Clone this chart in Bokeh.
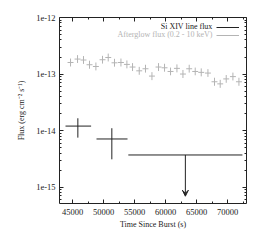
from bokeh.plotting import figure
from bokeh.models import (Range1d, FixedTicker, CustomJSTickFormatter, LogAxis, LinearAxis,
                          Label, Legend, LegendItem, Arrow, VeeHead)
from bokeh.embed import file_html
from bokeh.resources import INLINE

# ---- data ----
# Afterglow flux (0.2 - 10 keV)
ag_t = [44680, 45810, 46770, 47740, 48770, 49840, 50760, 51770, 52810, 53770,
        54680, 55760, 56770, 57810, 58870, 59840, 60810, 61840, 62810, 63820,
        64790, 65760, 66840, 67900, 68820, 69790, 70870, 71840]
ag_flux = [1.60e-13, 1.84e-13, 1.77e-13, 1.46e-13, 1.36e-13, 1.79e-13, 1.96e-13, 1.58e-13,
           1.60e-13, 1.48e-13, 1.33e-13, 1.14e-13, 1.24e-13, 0.92e-13, 1.33e-13, 1.29e-13,
           1.11e-13, 1.26e-13, 1.00e-13, 1.24e-13, 1.11e-13, 1.07e-13, 1.04e-13, 0.73e-13,
           0.67e-13, 0.82e-13, 0.90e-13, 0.73e-13]
ag_terr = [480] * len(ag_t)
ag_ferr_lo = [0.24e-13, 0.27e-13, 0.26e-13, 0.22e-13, 0.20e-13, 0.26e-13, 0.29e-13, 0.23e-13,
              0.24e-13, 0.22e-13, 0.20e-13, 0.17e-13, 0.18e-13, 0.14e-13, 0.20e-13, 0.19e-13,
              0.16e-13, 0.19e-13, 0.15e-13, 0.18e-13, 0.16e-13, 0.16e-13, 0.15e-13, 0.11e-13,
              0.10e-13, 0.12e-13, 0.13e-13, 0.11e-13]
ag_ferr_hi = [0.28e-13, 0.32e-13, 0.31e-13, 0.26e-13, 0.24e-13, 0.31e-13, 0.34e-13, 0.28e-13,
              0.28e-13, 0.26e-13, 0.23e-13, 0.20e-13, 0.22e-13, 0.16e-13, 0.23e-13, 0.23e-13,
              0.19e-13, 0.22e-13, 0.18e-13, 0.22e-13, 0.19e-13, 0.19e-13, 0.18e-13, 0.13e-13,
              0.12e-13, 0.14e-13, 0.16e-13, 0.13e-13]

# Si XIV line flux (detections)
si_t = [45860, 51340]
si_t_lo = [43870, 48870]
si_t_hi = [48000, 53870]
si_flux = [1.2e-14, 7.1e-15]
si_flux_lo = [7.5e-15, 3.1e-15]
si_flux_hi = [1.65e-14, 1.1e-14]

# Si XIV upper limit
ul_t_lo = 54000
ul_t_hi = 72400
ul_flux = 3.7e-15
ul_arrow_end = 6.9e-16

x_major = [45000, 50000, 55000, 60000, 65000, 70000]
x_minor = [42500, 47500, 52500, 57500, 62500, 67500, 72500]
y_major = [1e-15, 1e-14, 1e-13, 1e-12]
y_minor = [m * d for d in [1e-16, 1e-15, 1e-14, 1e-13] for m in range(2, 10)]

FONT = "Liberation Serif"
GRAY = "#b4b4b4"
INK = "#222222"

p = figure(width=255, height=240, output_backend="svg", toolbar_location=None,
           y_axis_type="log",
           x_range=Range1d(42900, 73060), y_range=Range1d(10 ** -15.29, 1e-12),
           min_border_left=59, min_border_right=9, min_border_top=17, min_border_bottom=37)
p.background_fill_color = "white"
p.border_fill_color = "white"
p.outline_line_color = INK
p.outline_line_width = 1
p.xgrid.visible = False
p.ygrid.visible = False

# afterglow crosses
ag_x0 = [t - e for t, e in zip(ag_t, ag_terr)]
ag_x1 = [t + e for t, e in zip(ag_t, ag_terr)]
ag_y0 = [f - e for f, e in zip(ag_flux, ag_ferr_lo)]
ag_y1 = [f + e for f, e in zip(ag_flux, ag_ferr_hi)]
r_ag = p.segment(x0=ag_x0, x1=ag_x1, y0=ag_flux, y1=ag_flux, line_color=GRAY, line_width=1)
p.segment(x0=ag_t, x1=ag_t, y0=ag_y0, y1=ag_y1, line_color=GRAY, line_width=1)

# Si XIV crosses
r_si = p.segment(x0=si_t_lo, x1=si_t_hi, y0=si_flux, y1=si_flux, line_color=INK, line_width=1)
p.segment(x0=si_t, x1=si_t, y0=si_flux_lo, y1=si_flux_hi, line_color=INK, line_width=1)

# upper limit
p.segment(x0=[ul_t_lo], x1=[ul_t_hi], y0=[ul_flux], y1=[ul_flux], line_color=INK, line_width=1)
ul_mid = (ul_t_lo + ul_t_hi) / 2
p.add_layout(Arrow(x_start=ul_mid, y_start=ul_flux, x_end=ul_mid, y_end=ul_arrow_end,
                   line_color=INK, line_width=1,
                   end=VeeHead(size=6, line_color=INK, line_width=1, fill_color=INK)))

# axes
p.xaxis.ticker = FixedTicker(ticks=x_major, minor_ticks=x_minor)
p.yaxis.ticker = FixedTicker(ticks=y_major, minor_ticks=y_minor)
p.yaxis.formatter = CustomJSTickFormatter(code="return '1e' + Math.round(Math.log10(tick));")
for ax in (p.xaxis[0], p.yaxis[0]):
    ax.major_tick_in = 4
    ax.major_tick_out = 0
    ax.minor_tick_in = 2
    ax.minor_tick_out = 0
    ax.axis_line_color = None
    ax.major_tick_line_color = INK
    ax.minor_tick_line_color = INK
    ax.major_label_text_font = FONT
    ax.major_label_text_font_size = "8.5px"
    ax.major_label_text_color = INK
    ax.axis_label_text_font = FONT
    ax.axis_label_text_font_size = "8px"
    ax.axis_label_text_font_style = "normal"
    ax.axis_label_text_color = INK
p.xaxis.major_label_standoff = 5
p.yaxis.major_label_standoff = 4
p.xaxis.axis_label = "Time Since Burst (s)"
p.yaxis.axis_label = "Flux (erg cm\u207b\u00b2 s\u207b\u00b9)"
p.xaxis.axis_label_standoff = 2
p.yaxis.axis_label_standoff = 7

blank = CustomJSTickFormatter(code="return '';")
top = LinearAxis(ticker=FixedTicker(ticks=x_major, minor_ticks=x_minor), formatter=blank)
right = LogAxis(ticker=FixedTicker(ticks=y_major, minor_ticks=y_minor), formatter=blank)
for ax in (top, right):
    ax.major_tick_in = 4
    ax.major_tick_out = 0
    ax.minor_tick_in = 2
    ax.minor_tick_out = 0
    ax.axis_line_color = None
    ax.major_tick_line_color = INK
    ax.minor_tick_line_color = INK
    ax.major_label_standoff = 0
    ax.major_label_text_font_size = "1px"
p.add_layout(top, "above")
p.add_layout(right, "right")

# legend (gnuplot style: text right-aligned, sample line to the right)
legend = Legend(items=[LegendItem(label=" ", renderers=[r_si]),
                       LegendItem(label=" ", renderers=[r_ag])],
                location=(157, 164), orientation="vertical",
                glyph_width=23, glyph_height=8, label_width=0, label_standoff=0,
                label_height=8, label_text_font_size="7px",
                spacing=0, padding=0, margin=0,
                border_line_color=None, background_fill_alpha=0)
p.add_layout(legend)
p.add_layout(Label(x=153, y=177, x_units="screen", y_units="screen",
                   text="Si XIV line flux", text_align="right", text_baseline="middle",
                   text_font=FONT, text_font_size="8px", text_color=INK))
p.add_layout(Label(x=153, y=169, x_units="screen", y_units="screen",
                   text="Afterglow flux (0.2 - 10 keV)", text_align="right", text_baseline="middle",
                   text_font=FONT, text_font_size="8px", text_color=GRAY))

open("out.html", "w").write(file_html(p, INLINE))
